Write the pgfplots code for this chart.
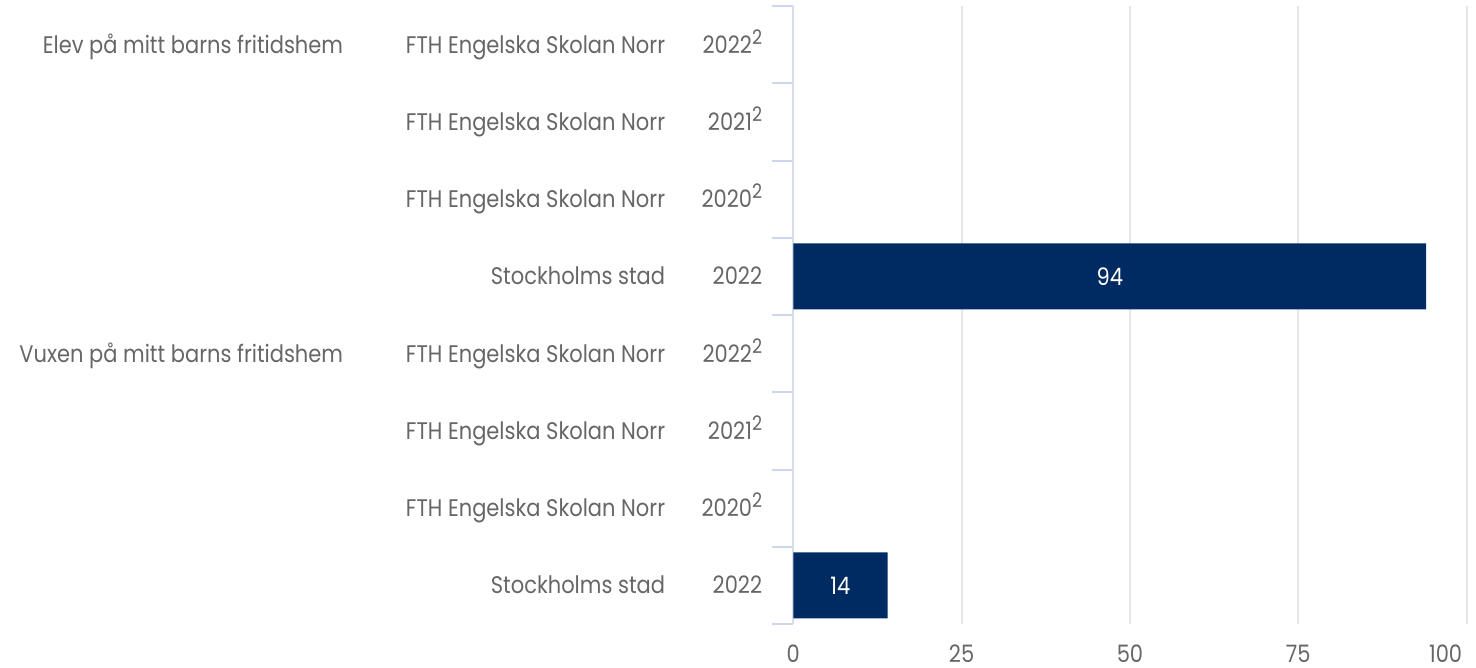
\documentclass[border=0pt]{standalone}
\usepackage{fontspec}
\setmainfont[FakeStretch=0.875]{Poppins}
\usepackage{pgfplots}
\pgfplotsset{compat=1.18}
\definecolor{txt}{HTML}{666666}
\definecolor{navy}{HTML}{002B62}
\definecolor{gridc}{HTML}{E6E6E6}
\definecolor{axc}{HTML}{D8DDE8}
\definecolor{tickc}{HTML}{CCD6EE}
\newcommand{\lf}{\fontsize{24}{24}\selectfont}
\newcommand{\supr}[1]{\raisebox{9pt}{\fontsize{20}{20}\selectfont #1}}
\tikzset{
  yr/.style={anchor=base east, inner sep=0, xshift=-31pt, yshift=-8.4pt, text=txt, font=\lf},
  un/.style={anchor=base east, inner sep=0, xshift=-128pt, yshift=-8.4pt, text=txt, font=\lf},
  gr/.style={anchor=base east, inner sep=0, xshift=-450pt, yshift=-8.4pt, text=txt, font=\lf},
}
\begin{document}
\begin{tikzpicture}[x=1pt,y=1pt]
\useasboundingbox (0,0) rectangle (1476,668);
\begin{axis}[
  at={(793.3pt,44pt)}, anchor=south west,
  scale only axis, width=673.3pt, height=618pt,
  xmin=0, xmax=100, ymin=-0.5, ymax=7.5, y dir=reverse,
  axis x line*=bottom, x axis line style={draw=none},
  axis y line*=left, y axis line style={color=axc, line width=2pt},
  xtick={0,25,50,75},
  extra x ticks={100},
  extra x tick style={xticklabel style={anchor=center, xshift=-21pt}},
  xmajorgrids, major grid style={color=gridc, line width=2pt},
  xtick style={draw=none},
  ytick={-0.5,0.5,...,7.5}, yticklabels={},
  major tick length=21pt, tick align=outside,
  ytick style={color=tickc, line width=2pt},
  /pgf/number format/assume math mode=true,
  xticklabel style={anchor=center, font=\lf, text=txt, yshift=-12pt},
  xticklabel shift=0pt,
  typeset ticklabels with strut=false,
  clip=false,
]
\addplot[xbar, bar width=66pt, fill=navy, draw=none] coordinates {(94,3) (14,7)};
\addplot[draw=none, mark=none, nodes near coords, point meta=explicit symbolic,
  nodes near coords style={anchor=center, white, font=\lf}]
  coordinates {(47,3) [94] (7,7) [14]};
\node[yr] at (axis cs:0,0) {2022\supr{2}};
\node[yr] at (axis cs:0,1) {2021\supr{2}};
\node[yr] at (axis cs:0,2) {2020\supr{2}};
\node[yr] at (axis cs:0,3) {2022};
\node[yr] at (axis cs:0,4) {2022\supr{2}};
\node[yr] at (axis cs:0,5) {2021\supr{2}};
\node[yr] at (axis cs:0,6) {2020\supr{2}};
\node[yr] at (axis cs:0,7) {2022};
\node[un] at (axis cs:0,0) {FTH Engelska Skolan Norr};
\node[un] at (axis cs:0,1) {FTH Engelska Skolan Norr};
\node[un] at (axis cs:0,2) {FTH Engelska Skolan Norr};
\node[un] at (axis cs:0,3) {Stockholms stad};
\node[un] at (axis cs:0,4) {FTH Engelska Skolan Norr};
\node[un] at (axis cs:0,5) {FTH Engelska Skolan Norr};
\node[un] at (axis cs:0,6) {FTH Engelska Skolan Norr};
\node[un] at (axis cs:0,7) {Stockholms stad};
\node[gr] at (axis cs:0,0) {Elev på mitt barns fritidshem};
\node[gr] at (axis cs:0,4) {Vuxen på mitt barns fritidshem};
\end{axis}
\end{tikzpicture}
\end{document}
